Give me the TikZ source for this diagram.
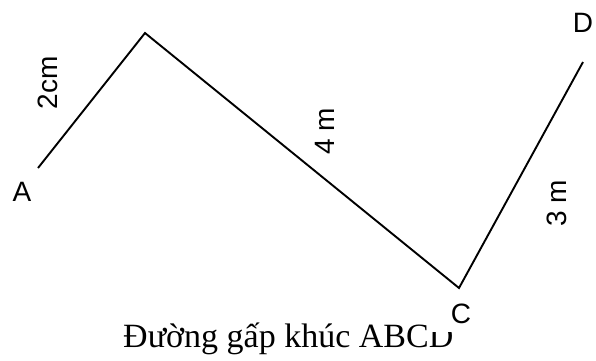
\documentclass[tikz,border=0pt]{standalone}
\usepackage{fontspec}
\setmainfont{Liberation Serif}
\newfontfamily\labelfont{Liberation Sans}
\begin{document}
\begin{tikzpicture}[x=1pt,y=-1pt,
  seg/.style={line width=1.9pt,black},
  ptlabel/.style={font=\labelfont\fontsize{28}{28}\selectfont,inner sep=0pt},
  lenlabel/.style={font=\labelfont\fontsize{28}{28}\selectfont,inner sep=0pt,rotate=90},
  caption/.style={font=\fontsize{34}{34}\selectfont,inner sep=0pt,anchor=base west}]
\useasboundingbox (0,0) rectangle (596,360);
\coordinate (A) at (38,168);
\coordinate (B) at (145,33);
\coordinate (C) at (459,288);
\coordinate (D) at (583,62);
\draw[seg] (A) -- (B) -- (C) -- (D);
\node[ptlabel] (lA) at (22,192) {A};
\node[ptlabel] (lD) at (583,23) {D};
\node[lenlabel] (l1) at (48,83) {2cm};
\node[lenlabel] (l2) at (325,131) {4 m};
\node[lenlabel] (l3) at (557,203) {3 m};
\node[caption] (cap) at (123,347) {Đường gấp khúc ABCD};
\node[ptlabel,fill=white,anchor=base,inner xsep=22pt,inner ysep=0pt,text height=22pt,text depth=9pt] (lC) at (461,323) {C};
\end{tikzpicture}
\end{document}
